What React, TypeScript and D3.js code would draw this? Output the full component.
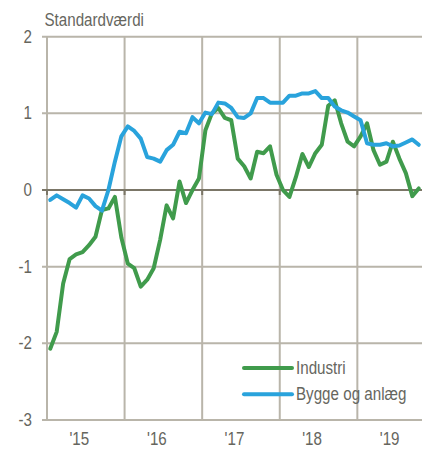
import React from "react";
import * as d3 from "d3";

// monthly standardised values, Aug 2014 - May 2019
const industri = [
  -2.07, -1.85, -1.22, -0.9, -0.84, -0.81, -0.72, -0.61, -0.26, -0.24, -0.09, -0.62,
  -0.96, -1.02, -1.26, -1.17, -1.02, -0.65, -0.2, -0.37, 0.11, -0.17, 0.0, 0.15,
  0.78, 1.0, 1.07, 0.94, 0.91, 0.41, 0.31, 0.15, 0.5, 0.48, 0.57, 0.2,
  0.0, -0.09, 0.17, 0.47, 0.3, 0.48, 0.59, 1.1, 1.17, 0.87, 0.63, 0.57,
  0.7, 0.87, 0.52, 0.33, 0.37, 0.63, 0.41, 0.22, -0.08, 0.02,
];
const bygge = [
  -0.13, -0.07, -0.12, -0.17, -0.23, -0.07, -0.11, -0.21, -0.27, 0.0, 0.37, 0.7,
  0.83, 0.77, 0.67, 0.43, 0.41, 0.37, 0.52, 0.59, 0.76, 0.74, 0.95, 0.87,
  1.01, 0.99, 1.14, 1.13, 1.07, 0.95, 0.94, 1.0, 1.2, 1.2, 1.14, 1.14,
  1.14, 1.23, 1.23, 1.26, 1.26, 1.29, 1.2, 1.2, 1.09, 1.04, 1.01, 0.96,
  0.91, 0.61, 0.59, 0.59, 0.61, 0.57, 0.58, 0.62, 0.66, 0.59,
];
const yearLabels = ["'15", "'16", "'17", "'18", "'19"];
const yTicks = [2, 1, 0, -1, -2, -3];
const seriesNames = ["Industri", "Bygge og anlæg"];

const W = 422;
const H = 449;
const FONT = "'Liberation Sans', Arial, sans-serif";
const FS = 18.5;
const SQUEEZE = 0.82; // the original font is a narrow sans
const TEXT = "#66665e";
const GRID = "#b9b5aa";
const ZERO = "#7b7667";
const GREEN = "#409b4c";
const BLUE = "#29a3dc";

function NText(props: {
  x: number;
  y: number;
  anchor?: string;
  baseline?: string;
  children: React.ReactNode;
}) {
  return (
    <text
      transform={`translate(${props.x},${props.y}) scale(${SQUEEZE},1)`}
      textAnchor={props.anchor || "start"}
      dominantBaseline={props.baseline || "auto"}
      fontSize={FS}
      fill={TEXT}
    >
      {props.children}
    </text>
  );
}

export default function App() {
  const n = industri.length;
  const x = d3.scaleLinear().domain([0, n]).range([47, 422]);
  const y = d3.scaleLinear().domain([-3, 2]).range([420, 36.7]);

  const line = d3
    .line<number>()
    .x((_, i) => x(i + 0.5))
    .y(d => y(d));

  const gridMonths = d3.range(0, n, 12);
  const colors = [GREEN, BLUE];

  return (
    <svg
      width={W}
      height={H}
      style={{ position: "absolute", left: 0, top: 0, fontFamily: FONT }}
    >
      <NText x={44.5} y={26}>
        Standardværdi
      </NText>

      {yTicks
        .filter(t => t !== 0)
        .map(t => (
          <line key={t} x1={42} x2={W} y1={y(t)} y2={y(t)} stroke={GRID} strokeWidth={2} />
        ))}
      {gridMonths.map(m => (
        <line key={m} x1={x(m)} x2={x(m)} y1={y(2)} y2={y(-3)} stroke={GRID} strokeWidth={2} />
      ))}
      <line x1={42} x2={W} y1={y(0)} y2={y(0)} stroke={ZERO} strokeWidth={2} />
      {gridMonths.map(m => (
        <line key={"t" + m} x1={x(m)} x2={x(m)} y1={y(0)} y2={y(0) + 5} stroke={ZERO} strokeWidth={2} />
      ))}

      {yTicks.map(t => (
        <NText key={t} x={32} y={y(t)} anchor="end" baseline="central">
          {t}
        </NText>
      ))}
      {yearLabels.map((l, k) => (
        <NText key={l} x={x(12 * k + 5)} y={444.5} anchor="middle">
          {l}
        </NText>
      ))}

      {[industri, bygge].map((s, k) => (
        <path
          key={k}
          d={line(s) || ""}
          fill="none"
          stroke={colors[k]}
          strokeWidth={4}
          strokeLinejoin="round"
          strokeLinecap="round"
        />
      ))}

      {seriesNames.map((name, k) => (
        <g key={name}>
          <line
            x1={244}
            x2={292}
            y1={368 + k * 26.3}
            y2={368 + k * 26.3}
            stroke={colors[k]}
            strokeWidth={4}
            strokeLinecap="round"
          />
          <NText x={296} y={368 + k * 26.3} baseline="central">
            {name}
          </NText>
        </g>
      ))}
    </svg>
  );
}
